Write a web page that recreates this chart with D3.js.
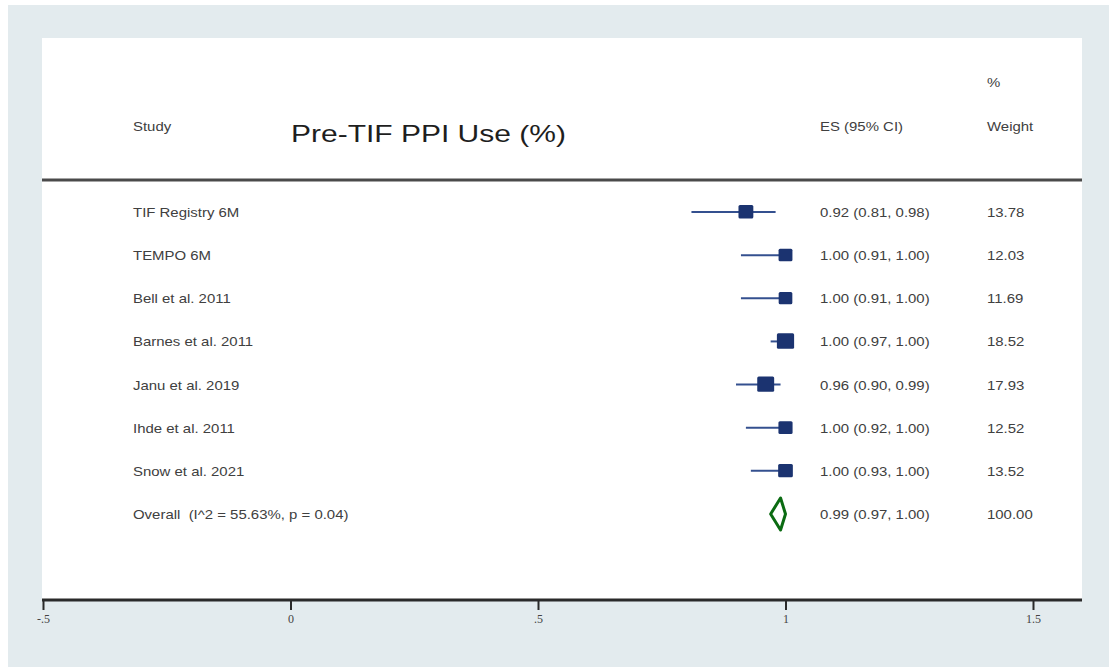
<!DOCTYPE html>
<html>
<head>
<meta charset="utf-8">
<script src="https://cdn.jsdelivr.net/npm/d3@7"></script>
<style>
  html, body { margin: 0; padding: 0; background: #ffffff; }
  svg { display: block; }
  text { white-space: pre; }
</style>
</head>
<body>
<svg id="chart" width="1109" height="667"></svg>
<script>
// Study-level estimates (proportion of patients using PPIs before TIF)
const studies = ["TIF Registry 6M", "TEMPO 6M", "Bell et al. 2011", "Barnes et al. 2011",
                 "Janu et al. 2019", "Ihde et al. 2011", "Snow et al. 2021"];
const es      = [0.92, 1.00, 1.00, 1.00, 0.96, 1.00, 1.00];
const ciLow   = [0.81, 0.91, 0.91, 0.97, 0.90, 0.92, 0.93];
const ciHigh  = [0.98, 1.00, 1.00, 1.00, 0.99, 1.00, 1.00];
const weights = [13.78, 12.03, 11.69, 18.52, 17.93, 12.52, 13.52];

// Pooled estimate
const overallLabel = "Overall  (I^2 = 55.63%, p = 0.04)";
const overallES = 0.99, overallLow = 0.97, overallHigh = 1.00, overallWeight = 100.00;

const xTicks = [-0.5, 0, 0.5, 1, 1.5];
const xTickLabels = ["-.5", "0", ".5", "1", "1.5"];

const svg = d3.select("#chart");
const W = 1109, H = 667;

// Outer backdrop and white plot region
svg.append("rect").attr("x", 8).attr("y", 5).attr("width", W - 8).attr("height", H - 5)
  .attr("fill", "#e3ebee");
const panel = { left: 42, right: 1082, top: 38, bottom: 600 };
svg.append("rect").attr("x", panel.left).attr("y", panel.top)
  .attr("width", panel.right - panel.left).attr("height", panel.bottom - panel.top)
  .attr("fill", "#ffffff");

const x = d3.scaleLinear().domain([-0.5, 1.5]).range([43, 1033]);

const rows = studies.map((s, i) => i).concat([studies.length]);
const y = d3.scalePoint().domain(rows).range([212, 514]);

const fontSans = "'Liberation Sans', Arial, Helvetica, sans-serif";
const textCol = "#404040";
const stretch = 1.15;

// Text drawn slightly widened, anchored at its left baseline point
function label(parent, tx, ty, str, size = 13, sx = stretch, col = textCol) {
  return parent.append("text")
    .attr("transform", `translate(${tx},${ty}) scale(${sx},1)`)
    .attr("font-family", fontSans).attr("font-size", size).attr("fill", col)
    .text(str);
}

// Header
const hdr = svg.append("g");
label(hdr, 133, 131, "Study");
label(hdr, 820, 131, "ES (95% CI)");
label(hdr, 987, 87, "%");
label(hdr, 987, 131, "Weight");
label(hdr, 291, 142, "Pre-TIF PPI Use (%)", 24, 1.25, "#1e1e1e");

// Separator under the header
svg.append("line").attr("x1", panel.left).attr("x2", panel.right)
  .attr("y1", 180).attr("y2", 180).attr("stroke", "#4a4a4a").attr("stroke-width", 3);

// Study rows
const g = svg.append("g");
const lineCol = "#34508f", boxCol = "#1b3370";
const sq = w => 4.0 * Math.sqrt(w);

studies.forEach((name, i) => {
  const cy = y(i);
  label(g, 133, cy + 5, name);
  g.append("line").attr("x1", x(ciLow[i])).attr("x2", x(ciHigh[i]))
    .attr("y1", cy).attr("y2", cy).attr("stroke", lineCol).attr("stroke-width", 2);
  const s = sq(weights[i]);
  g.append("rect").attr("x", x(es[i]) - s / 2).attr("y", cy - s / 2 + 0.5)
    .attr("width", s).attr("height", s * 0.9).attr("rx", 1.5).attr("fill", boxCol);
  label(g, 820, cy + 5, `${es[i].toFixed(2)} (${ciLow[i].toFixed(2)}, ${ciHigh[i].toFixed(2)})`);
  label(g, 987, cy + 5, weights[i].toFixed(2));
});

// Pooled row with diamond
const oy = y(studies.length);
label(g, 133, oy + 5, overallLabel);
const dh = 16;
g.append("path")
  .attr("d", d3.line()([[x(overallLow), oy], [x(overallES), oy - dh], [x(overallHigh), oy], [x(overallES), oy + dh]]) + "Z")
  .attr("fill", "none").attr("stroke", "#0b6b12").attr("stroke-width", 3).attr("stroke-linejoin", "round");
label(g, 820, oy + 5, `${overallES.toFixed(2)} (${overallLow.toFixed(2)}, ${overallHigh.toFixed(2)})`);
label(g, 987, oy + 5, overallWeight.toFixed(2));

// X axis
const axis = d3.axisBottom(x).tickValues(xTicks)
  .tickFormat((d, i) => xTickLabels[i]).tickSize(10).tickSizeOuter(0).tickPadding(4);
const ax = svg.append("g").attr("transform", `translate(0,${panel.bottom})`).call(axis);
ax.select(".domain").remove();
ax.append("line").attr("x1", panel.left).attr("x2", panel.right)
  .attr("y1", 0).attr("y2", 0).attr("stroke", "#2a2a2a").attr("stroke-width", 3);
ax.selectAll(".tick line").attr("stroke", "#2a2a2a").attr("stroke-width", 2);
ax.selectAll(".tick text").attr("font-family", "'Liberation Serif', serif")
  .attr("font-size", 12).attr("fill", "#444");
</script>
</body>
</html>
